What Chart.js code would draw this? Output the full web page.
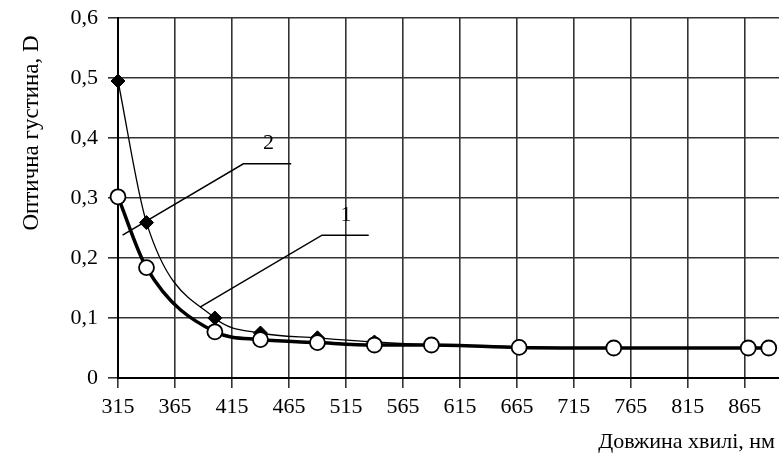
<!DOCTYPE html>
<html>
<head>
<meta charset="utf-8">
<script src="https://cdn.jsdelivr.net/npm/chart.js@4/dist/chart.umd.min.js"></script>
<style>
  html, body { margin: 0; padding: 0; background: #fff; }
  #wrap { width: 779px; height: 467px; position: relative; }
</style>
</head>
<body>
<div id="wrap"><canvas id="c" width="779" height="467"></canvas></div>
<script>
// Wavelength, nm
const wavelength = [315, 340, 400, 440, 490, 540, 590, 667, 750, 868, 886];
// Optical density, curve 1 (open circles, thick line)
const density1 = [0.302, 0.184, 0.077, 0.064, 0.059, 0.055, 0.055, 0.051, 0.05, 0.05, 0.05];
// Optical density, curve 2 (filled diamonds, thin line)
const density2 = [0.495, 0.259, 0.100, 0.075, 0.067, 0.060, 0.055, 0.052, 0.05, 0.05, 0.05];
// Axis ticks
const xTicks = [315, 365, 415, 465, 515, 565, 615, 665, 715, 765, 815, 865];
const yTicks = [0, 0.1, 0.2, 0.3, 0.4, 0.5, 0.6];

const FONT = "'Liberation Serif', 'Times New Roman', serif";
const FONT_SIZE = 22;

// Leader lines with curve numbers, in data units (nm, D)
const leaders = [
  { label: '2', text: [447, 0.392], path: [[319, 0.238], [425, 0.357], [467, 0.357]] },
  { label: '1', text: [515, 0.272], path: [[387, 0.118], [494, 0.238], [535, 0.238]] }
];

const leaderPlugin = {
  id: 'leaders',
  afterDatasetsDraw(chart) {
    const { ctx, scales: { x, y } } = chart;
    ctx.save();
    ctx.strokeStyle = '#000';
    ctx.lineWidth = 1.5;
    ctx.fillStyle = '#000';
    ctx.font = FONT_SIZE + 'px ' + FONT;
    ctx.textAlign = 'center';
    ctx.textBaseline = 'middle';
    leaders.forEach(l => {
      ctx.beginPath();
      l.path.forEach((p, i) => {
        const px = x.getPixelForValue(p[0]);
        const py = y.getPixelForValue(p[1]);
        if (i === 0) ctx.moveTo(px, py); else ctx.lineTo(px, py);
      });
      ctx.stroke();
      ctx.fillText(l.label, x.getPixelForValue(l.text[0]), y.getPixelForValue(l.text[1]));
    });
    ctx.restore();
  }
};

// Axis titles: rotated one in the upper left margin, horizontal one at the lower right
const titlesPlugin = {
  id: 'axisTitles',
  afterDraw(chart) {
    const { ctx } = chart;
    ctx.save();
    ctx.fillStyle = '#000';
    ctx.textBaseline = 'middle';
    ctx.font = FONT_SIZE + 'px ' + FONT;
    ctx.textAlign = 'right';
    ctx.fillText('Довжина хвилі, нм', 775, 442);
    ctx.translate(32, 133);
    ctx.rotate(-Math.PI / 2);
    ctx.font = '23px ' + FONT;
    ctx.textAlign = 'center';
    ctx.fillText('Оптична густина, D', 0, 0);
    ctx.restore();
  }
};

new Chart(document.getElementById('c'), {
  type: 'line',
  data: {
    datasets: [
      {
        label: '1',
        data: wavelength.map((w, i) => ({ x: w, y: density1[i] })),
        borderColor: '#000',
        borderWidth: 3.5,
        cubicInterpolationMode: 'monotone',
        pointStyle: 'circle',
        pointRadius: 7.5,
        pointBorderWidth: 1.8,
        pointBackgroundColor: '#fff',
        pointBorderColor: '#000',
        order: 0
      },
      {
        label: '2',
        data: wavelength.map((w, i) => ({ x: w, y: density2[i] })),
        borderColor: '#000',
        borderWidth: 1.3,
        cubicInterpolationMode: 'monotone',
        pointStyle: 'rectRot',
        pointRadius: 7,
        pointBorderWidth: 1,
        pointBackgroundColor: '#000',
        pointBorderColor: '#000',
        order: 1
      }
    ]
  },
  options: {
    responsive: false,
    animation: false,
    events: [],
    clip: false,
    layout: { autoPadding: false, padding: { top: 18, right: 0, left: 0, bottom: 0 } },
    plugins: { legend: { display: false }, tooltip: { enabled: false } },
    scales: {
      x: {
        type: 'linear',
        min: 315,
        max: 895,
        afterBuildTicks(scale) { scale.ticks = xTicks.map(v => ({ value: v })); },
        afterFit(scale) { scale.height = 89; scale.paddingRight = 0; },
        grid: { color: '#333', lineWidth: 1.6, tickLength: 10, drawTicks: true },
        border: { color: '#000', width: 2 },
        ticks: {
          color: '#000',
          padding: 6,
          maxRotation: 0,
          autoSkip: false,
          font: { family: FONT, size: FONT_SIZE },
          callback: v => String(v)
        }
      },
      y: {
        type: 'linear',
        min: 0,
        max: 0.6,
        afterBuildTicks(scale) { scale.ticks = yTicks.map(v => ({ value: v })); },
        afterFit(scale) { scale.width = 118; scale.paddingTop = 0; },
        grid: { color: '#333', lineWidth: 1.6, tickLength: 10, drawTicks: true },
        border: { color: '#000', width: 2 },
        ticks: {
          color: '#000',
          padding: 10,
          font: { family: FONT, size: FONT_SIZE },
          callback: v => (v === 0 ? '0' : v.toFixed(1).replace('.', ','))
        }
      }
    }
  },
  plugins: [leaderPlugin, titlesPlugin]
});
</script>
</body>
</html>
